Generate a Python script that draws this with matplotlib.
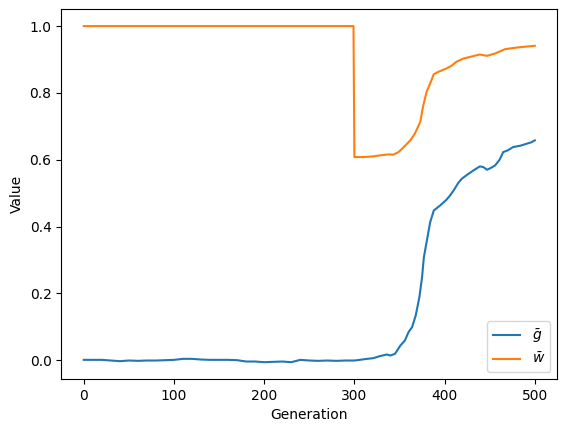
import matplotlib
matplotlib.use("Agg")
import matplotlib.pyplot as plt

g_gen = [0, 10, 20, 30, 40, 50, 60, 70, 80, 90, 100, 110, 120, 130, 140, 150, 160, 170,
         180, 190, 200, 210, 220, 230, 240, 250, 260, 270, 280, 290, 300, 306, 314, 321,
         328, 336, 340, 345, 351, 356, 360, 364, 368, 372, 375, 377, 380, 384, 388, 395,
         402, 406, 410, 415, 419, 425, 432, 439, 443, 447, 451, 456, 461, 465, 470, 476,
         484, 491, 496, 500]
g_val = [0.001, 0.001, 0.001, -0.001, -0.003, -0.001, -0.002, -0.001, -0.001, 0.000,
         0.001, 0.004, 0.004, 0.002, 0.001, 0.001, 0.001, 0.000, -0.004, -0.004, -0.006,
         -0.005, -0.004, -0.006, 0.001, -0.001, -0.002, -0.001, -0.002, -0.001, -0.001,
         0.001, 0.004, 0.006, 0.012, 0.017, 0.014, 0.019, 0.044, 0.059, 0.084, 0.099,
         0.134, 0.188, 0.248, 0.308, 0.353, 0.413, 0.448, 0.463, 0.480, 0.493, 0.508,
         0.530, 0.543, 0.555, 0.568, 0.580, 0.578, 0.570, 0.575, 0.583, 0.600, 0.623,
         0.628, 0.638, 0.642, 0.648, 0.652, 0.658]

w_gen = [0, 299, 300, 310, 321, 328, 338, 343, 349, 354, 362, 367, 373, 376, 380, 384,
         388, 393, 402, 408, 413, 421, 430, 439, 447, 456, 462, 467, 475, 484, 492, 500]
w_val = [1.0, 1.0, 0.608, 0.608, 0.610, 0.613, 0.616, 0.615, 0.623, 0.636, 0.658, 0.678,
         0.713, 0.758, 0.803, 0.828, 0.856, 0.863, 0.873, 0.882, 0.893, 0.903, 0.909,
         0.915, 0.911, 0.918, 0.925, 0.931, 0.934, 0.937, 0.939, 0.941]

fig = plt.figure(figsize=(5.67, 4.32), dpi=100)
ax = fig.add_subplot(111)
fig.subplots_adjust(left=0.108, right=0.983, top=0.9785, bottom=0.1227)
ax.plot(g_gen, g_val, label=r"$\bar{g}$")
ax.plot(w_gen, w_val, label=r"$\bar{w}$")
ax.set_xlabel("Generation")
ax.set_ylabel("Value")
ax.legend(loc="lower right")
fig.savefig("out.png", dpi=100)
